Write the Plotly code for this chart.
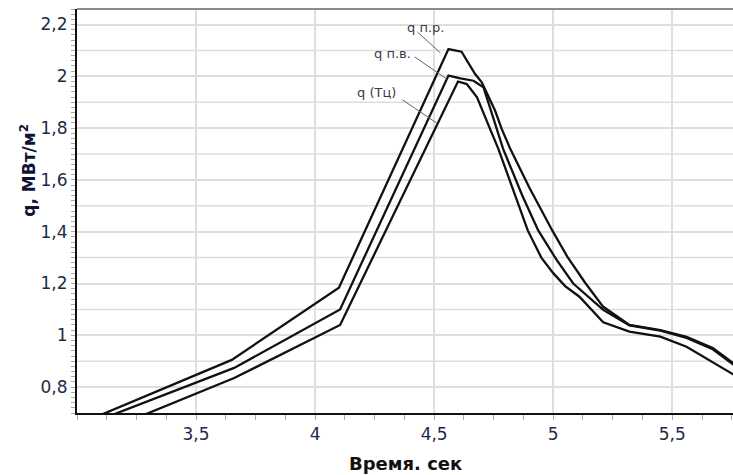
import plotly.graph_objects as go

# --- data ---
x_pr = [3.0, 3.65, 4.10, 4.56, 4.615, 4.672, 4.70, 4.756, 4.784, 4.82, 4.90, 4.996, 5.059, 5.134, 5.21, 5.32, 5.45, 5.56, 5.67, 5.76]
y_pr = [0.654, 0.905, 1.184, 2.105, 2.095, 2.009, 1.977, 1.867, 1.796, 1.719, 1.57, 1.405, 1.304, 1.203, 1.11, 1.04, 1.02, 0.994, 0.951, 0.89]

x_pv = [3.0, 3.66, 4.105, 4.56, 4.61, 4.665, 4.707, 4.79, 4.87, 4.937, 5.015, 5.084, 5.21, 5.32, 5.45, 5.56, 5.67, 5.76]
y_pv = [0.64, 0.874, 1.10, 2.003, 1.992, 1.983, 1.958, 1.719, 1.54, 1.405, 1.29, 1.20, 1.098, 1.038, 1.018, 0.99, 0.946, 0.885]

x_tc = [3.0, 3.66, 4.105, 4.60, 4.637, 4.68, 4.735, 4.77, 4.85, 4.893, 4.95, 5.0, 5.05, 5.11, 5.21, 5.32, 5.45, 5.56, 5.76]
y_tc = [0.587, 0.835, 1.04, 1.98, 1.97, 1.919, 1.796, 1.719, 1.515, 1.405, 1.30, 1.24, 1.19, 1.149, 1.05, 1.014, 0.995, 0.956, 0.847]

series_names = ["q п.р.", "q п.в.", "q (Тц)"]

y_tick_vals = [0.8, 1.0, 1.2, 1.4, 1.6, 1.8, 2.0, 2.2]
y_tick_text = ["0,8", "1", "1,2", "1,4", "1,6", "1,8", "2", "2,2"]
y_grid_vals = [0.9, 1.1, 1.3, 1.5, 1.7, 1.9, 2.1]
x_tick_vals = [3.5, 4.0, 4.5, 5.0, 5.5]
x_tick_text = ["3,5", "4", "4,5", "5", "5,5"]

# label positions and leader lines
label_pos = [(4.464, 2.187), (4.325, 2.09), (4.258, 1.939)]
leader_from = [(4.43, 2.171), (4.418, 2.075), (4.367, 1.909)]
leader_to = [(4.527, 2.09), (4.552, 1.99), (4.51, 1.82)]

fig = go.Figure()

# intermediate horizontal grid lines (every 0.1 between labelled ticks)
for gv in y_grid_vals:
    fig.add_shape(type="line", xref="paper", yref="y", x0=0, x1=1, y0=gv, y1=gv,
                  line=dict(color="#dedede", width=1.5), layer="below")

for xs, ys, nm in [(x_pr, y_pr, series_names[0]), (x_pv, y_pv, series_names[1]), (x_tc, y_tc, series_names[2])]:
    fig.add_trace(go.Scatter(x=xs, y=ys, mode="lines", name=nm,
                             line=dict(color="#111111", width=2.3), showlegend=False))

tick_font = dict(family="DejaVu Sans", size=17, color="#1c2b45")

fig.update_layout(
    width=733, height=475,
    margin=dict(l=77, r=0, t=9, b=62),
    paper_bgcolor="white", plot_bgcolor="white",
    separators=", ",
    xaxis=dict(
        range=[3.0, 5.755], tickmode="array", tickvals=x_tick_vals, ticktext=x_tick_text,
        showgrid=True, gridcolor="#dedede", gridwidth=1.5,
        showline=True, linecolor="#111111", linewidth=2,
        ticks="outside", ticklen=5, tickcolor="#aaaaaa", tickwidth=1,
        tickfont=tick_font, zeroline=False,
        minor=dict(tickmode="linear", tick0=3.0, dtick=0.125, ticks="outside",
                   ticklen=5, tickcolor="#aaaaaa", showgrid=False),
    ),
    yaxis=dict(
        range=[0.7, 2.26], tickmode="array", tickvals=y_tick_vals, ticktext=y_tick_text,
        showgrid=True, gridcolor="#dedede", gridwidth=1.5,
        showline=True, linecolor="#111111", linewidth=2,
        ticks="outside", ticklen=4, tickcolor="#aaaaaa", tickwidth=1,
        tickfont=tick_font, zeroline=False,
        minor=dict(tickmode="linear", tick0=0.8, dtick=0.02, ticks="outside",
                   ticklen=4, tickcolor="#aaaaaa", showgrid=False),
    ),
)

# top border
fig.add_shape(type="line", xref="paper", yref="paper", x0=0, x1=1, y0=1, y1=1,
              line=dict(color="#8a8a8a", width=2))

for (tx, ty), (fx, fy), (ex, ey), nm in zip(label_pos, leader_from, leader_to, series_names):
    fig.add_shape(type="line", xref="x", yref="y", x0=fx, y0=fy, x1=ex, y1=ey,
                  line=dict(color="#666666", width=1))
    fig.add_annotation(x=tx, y=ty, xref="x", yref="y", text=nm, showarrow=False,
                       font=dict(family="DejaVu Sans", size=13, color="#3a3a4a"))

# axis titles
fig.add_annotation(xref="paper", yref="paper", x=0.5, y=-0.124, text="<b>Время. сек</b>",
                   showarrow=False, xanchor="center", yanchor="middle",
                   font=dict(family="DejaVu Sans", size=18, color="#111111"))
fig.add_annotation(xref="paper", yref="paper", x=-0.076, y=0.60,
                   text="<b>q, МВт/м<sup>2</sup></b>", textangle=-90,
                   showarrow=False, xanchor="center", yanchor="middle",
                   font=dict(family="DejaVu Sans", size=17, color="#111133"))

fig.write_html("out.html", config={"displayModeBar": False},
               post_script="document.body.style.margin='0';document.body.style.padding='0';")
